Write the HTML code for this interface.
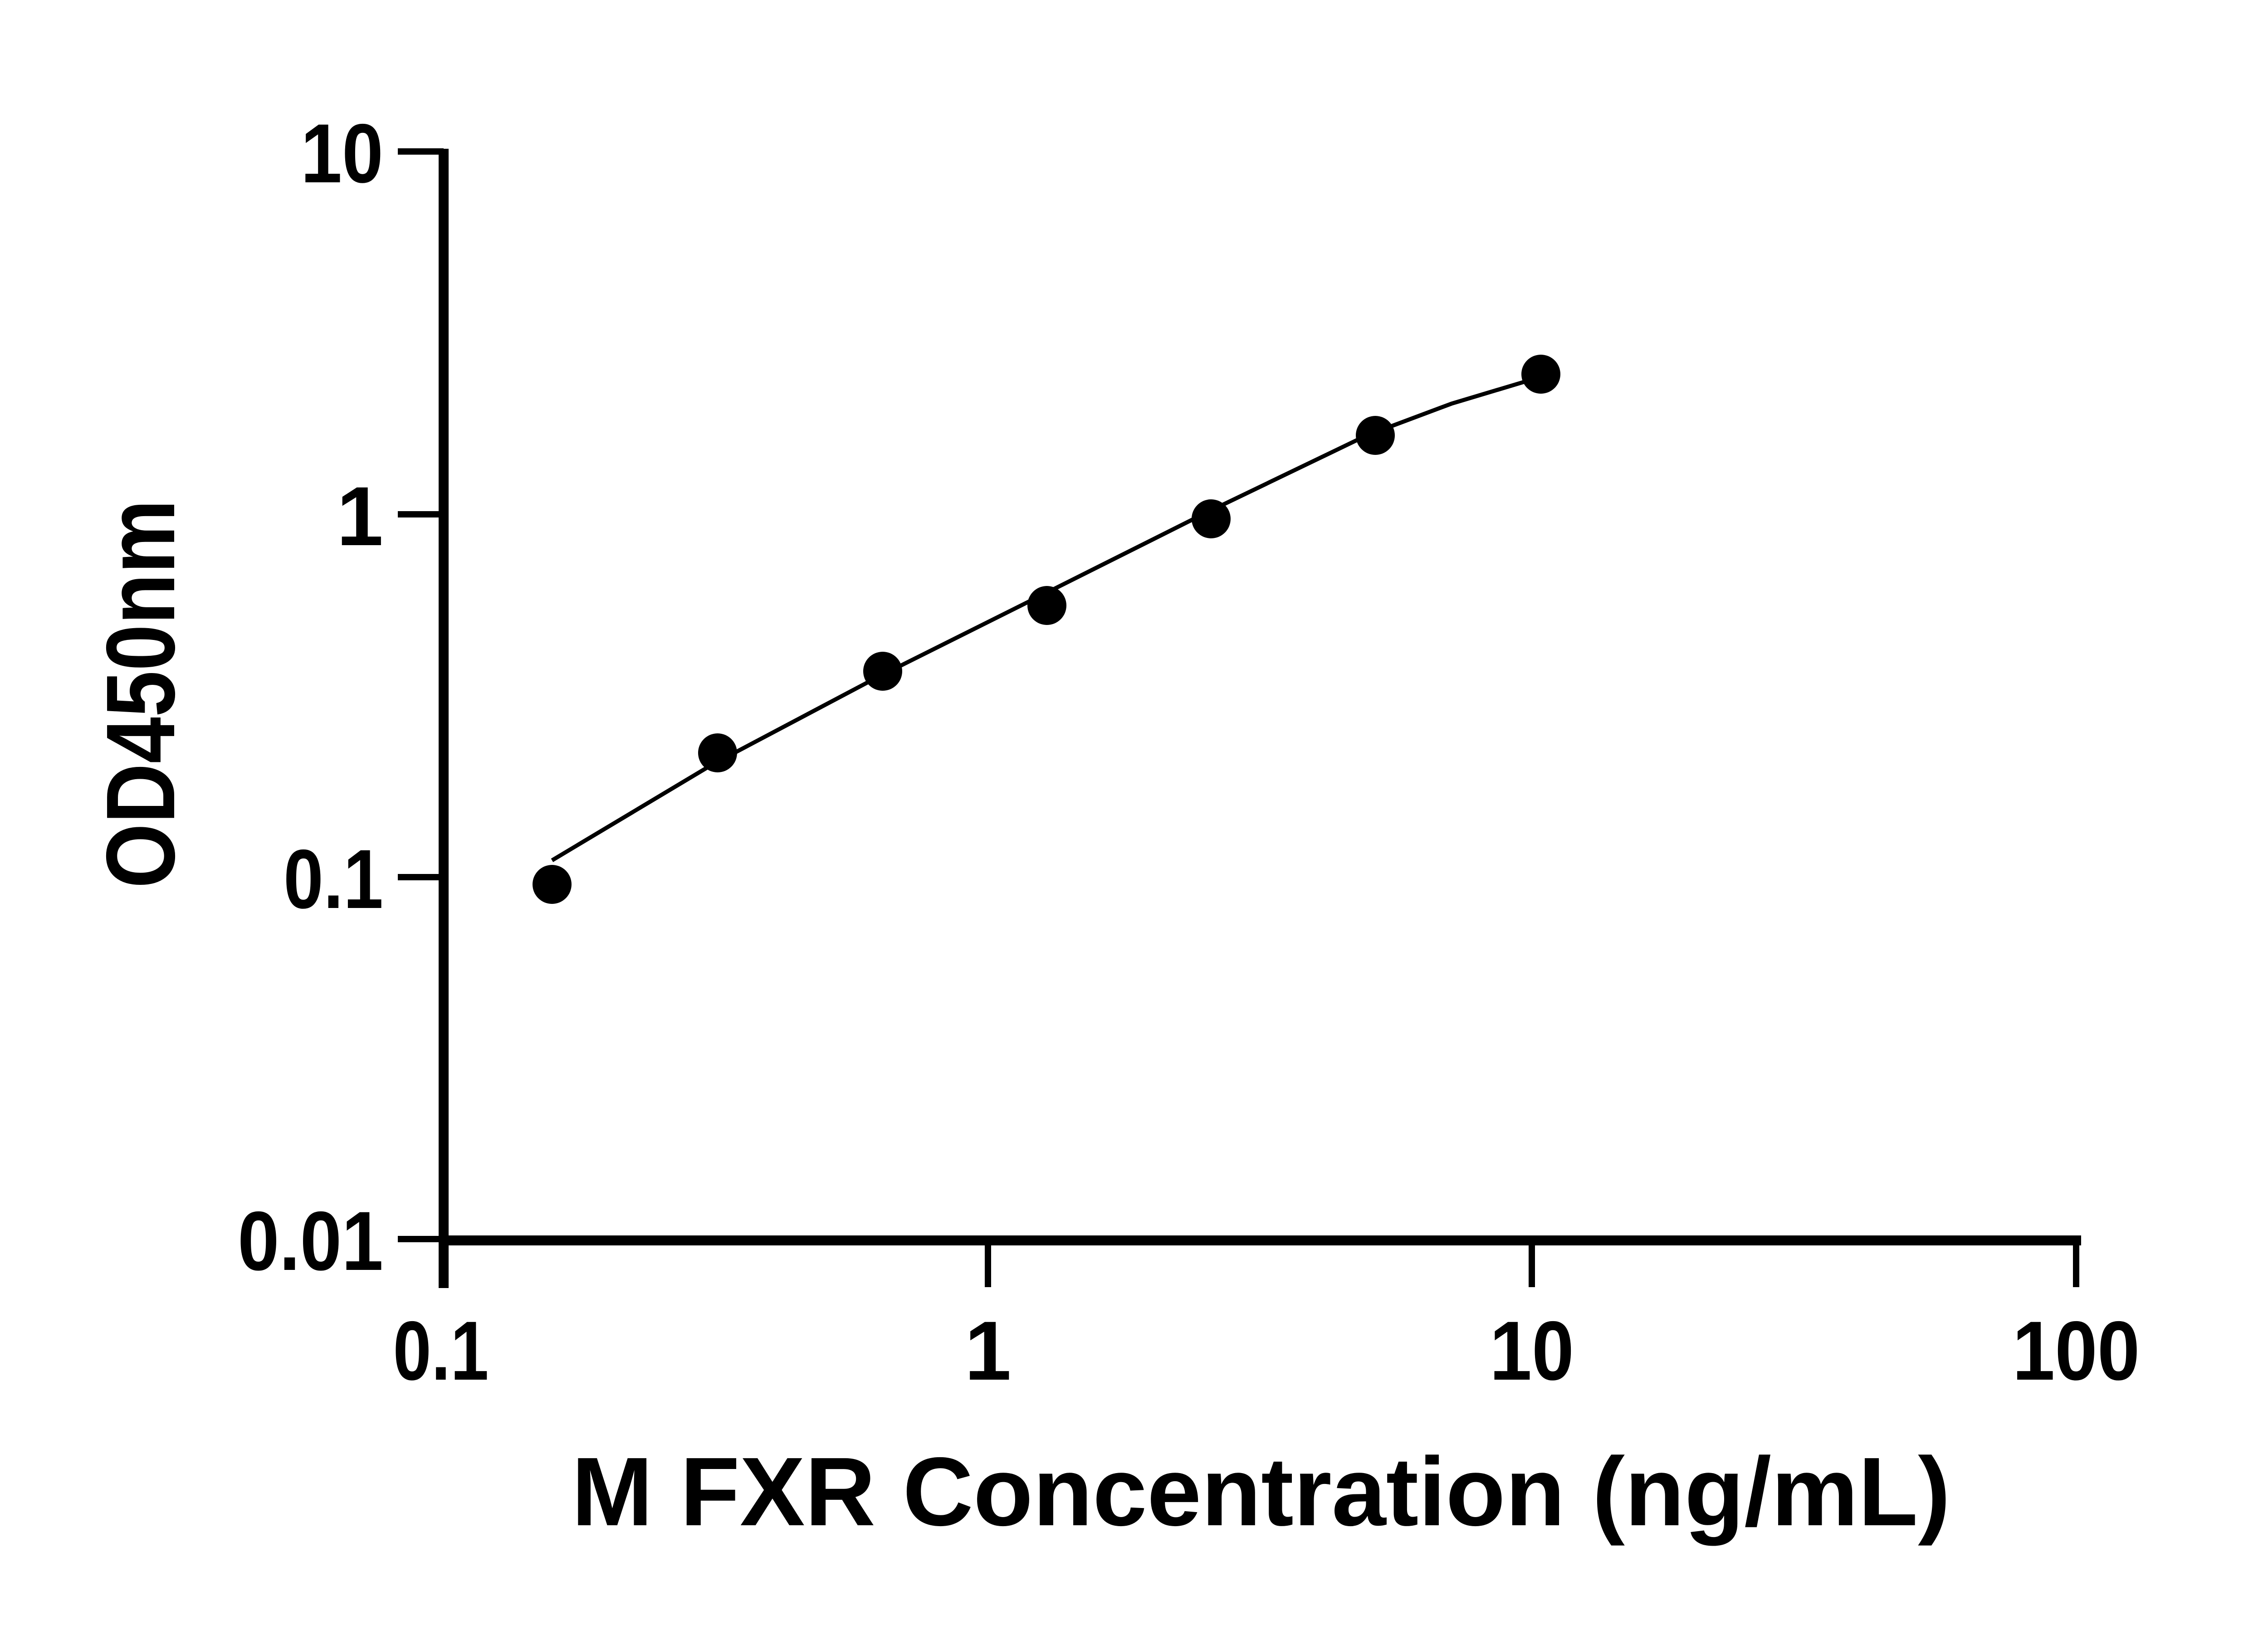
<!DOCTYPE html>
<html><head><meta charset="utf-8"><style>html,body{margin:0;padding:0;background:#fff}</style></head>
<body>
<svg width="5130" height="3600" viewBox="0 0 5130 3600" xmlns="http://www.w3.org/2000/svg">
<rect width="5130" height="3600" fill="#fff"/>
<g stroke="#000" fill="none">
<line x1="978" y1="328" x2="978" y2="2840" stroke-width="22"/>
<line x1="967" y1="2735" x2="4588" y2="2735" stroke-width="22"/>
<g stroke-width="14">
<line x1="877" y1="334" x2="978" y2="334"/>
<line x1="877" y1="1134" x2="978" y2="1134"/>
<line x1="877" y1="1934" x2="978" y2="1934"/>
<line x1="877" y1="2732" x2="978" y2="2732"/>
<line x1="2178" y1="2735" x2="2178" y2="2838"/>
<line x1="3377" y1="2735" x2="3377" y2="2838"/>
<line x1="4577" y1="2735" x2="4577" y2="2838"/>
</g>
<polyline stroke-width="9" points="1217,1897 1568,1687 1929,1496 2291,1315 2652,1134 3013,960 3200,890 3360,842"/>
</g>
<g fill="#000">
<circle cx="1217" cy="1950" r="43"/>
<circle cx="1582" cy="1660" r="43"/>
<circle cx="1946" cy="1480" r="43"/>
<circle cx="2308" cy="1335" r="43"/>
<circle cx="2670" cy="1144" r="43"/>
<circle cx="3032" cy="960" r="43"/>
<circle cx="3397" cy="825" r="43"/>
</g>
<g font-family="Liberation Sans, sans-serif" font-weight="bold" font-size="185" fill="#000" lengthAdjust="spacingAndGlyphs">
<g text-anchor="end">
<text x="845" y="402" textLength="182" lengthAdjust="spacingAndGlyphs">10</text>
<text x="845" y="1202">1</text>
<text x="845" y="2002" textLength="220" lengthAdjust="spacingAndGlyphs">0.1</text>
<text x="845" y="2800" textLength="321" lengthAdjust="spacingAndGlyphs">0.01</text>
</g>
<g text-anchor="middle">
<text x="972" y="3042" textLength="211" lengthAdjust="spacingAndGlyphs">0.1</text>
<text x="2178" y="3042">1</text>
<text x="3377" y="3042" textLength="186" lengthAdjust="spacingAndGlyphs">10</text>
<text x="4577" y="3042" textLength="281" lengthAdjust="spacingAndGlyphs">100</text>
</g>
<text x="2780" y="3363" text-anchor="middle" font-size="215" textLength="3040" lengthAdjust="spacingAndGlyphs">M FXR Concentration (ng/mL)</text>
<text transform="translate(384,1530) rotate(-90)" text-anchor="middle" font-size="215" textLength="857" lengthAdjust="spacingAndGlyphs">OD450nm</text>
</g>
</svg>
</body></html>
